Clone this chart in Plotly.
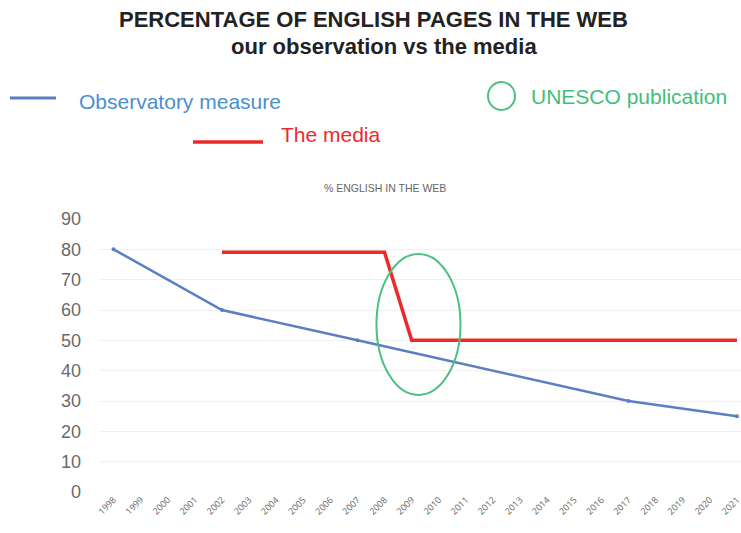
import plotly.graph_objects as go

years = list(range(1998, 2022))
obs_years = [1998, 2002, 2007, 2017, 2021]
obs_values = [80, 60, 50, 30, 25]
media_years = [2002, 2008, 2009, 2021]
media_values = [79, 79, 50, 50]
y_ticks = [0, 10, 20, 30, 40, 50, 60, 70, 80, 90]

W, H = 741, 533
ml, mr, mt, mb = 100, 0, 219, 41
pw, ph = W - ml - mr, H - mt - mb

def px(x):
    return (x - ml) / pw

def py(y):
    return (H - mb - y) / ph

fig = go.Figure()
fig.add_trace(go.Scatter(x=obs_years, y=obs_values, mode="lines+markers",
                         line=dict(color="#5a7fc4", width=2.5),
                         marker=dict(size=4, color="#5a7fc4"), showlegend=False))
fig.add_trace(go.Scatter(x=media_years, y=media_values, mode="lines",
                         line=dict(color="#ec2a2a", width=3.5), showlegend=False))

# UNESCO ellipse
fig.add_shape(type="circle", xref="x", yref="y", x0=2007.7, x1=2010.8, y0=32, y1=78.5,
              line=dict(color="#4cc083", width=2))

# custom legend marks
fig.add_shape(type="line", xref="paper", yref="paper", x0=px(10), x1=px(56), y0=py(98), y1=py(98),
              line=dict(color="#5a7fc4", width=3))
fig.add_shape(type="line", xref="paper", yref="paper", x0=px(193), x1=px(263), y0=py(142), y1=py(142),
              line=dict(color="#ec2a2a", width=3.5))
fig.add_shape(type="circle", xref="paper", yref="paper", x0=px(488), x1=px(515), y0=py(82), y1=py(110),
              line=dict(color="#4cc083", width=2))

def ann(text, x, y, size, color, bold=False, xanchor="left"):
    fig.add_annotation(text=f"<b>{text}</b>" if bold else text, xref="paper", yref="paper",
                       x=px(x), y=py(y), xanchor=xanchor, yanchor="middle", showarrow=False,
                       font=dict(size=size, color=color, family="Liberation Sans, Arial"))

ann("PERCENTAGE OF ENGLISH PAGES IN THE WEB", 373, 20, 22, "#222222", True, "center")
ann("our observation vs the media", 384, 46, 22, "#222222", True, "center")
ann("Observatory measure", 77, 101, 21, "#4a8fd0")
ann("The media", 279, 134, 21, "#ee2a2a")
ann("UNESCO publication", 529, 96, 21, "#3fbf7a")
ann("% ENGLISH IN THE WEB", 385, 188, 10.5, "#666666", False, "center")

fig.update_layout(
    width=W, height=H, margin=dict(l=ml, r=mr, t=mt, b=mb),
    paper_bgcolor="white", plot_bgcolor="white",
    xaxis=dict(range=[1997.5, 2021.15], tickmode="array", tickvals=years,
               ticktext=[str(y) for y in years], tickangle=-45, ticklabeloverflow="allow",
               tickfont=dict(size=9, color="#666666"), showgrid=False, zeroline=False,
               showline=False, ticks=""),
    yaxis=dict(range=[0, 90], tickmode="array", tickvals=y_ticks,
               tickfont=dict(size=18, color="#6a6a6a", family="Liberation Sans, Arial"),
               gridcolor="#f0f0f0", zeroline=False, showline=False, ticks="", ticklabelstandoff=18),
)

fig.write_html("out.html")
